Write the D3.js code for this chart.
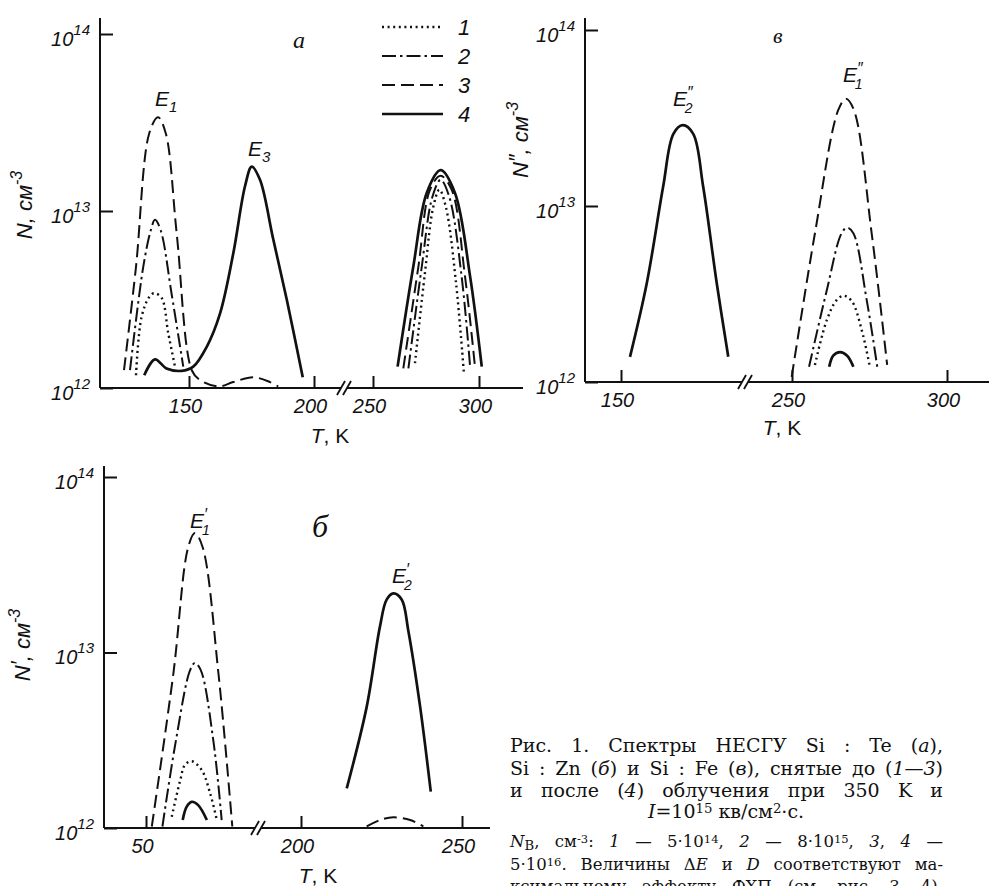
<!DOCTYPE html>
<html>
<head>
<meta charset="utf-8">
<script src="https://cdn.jsdelivr.net/npm/d3@7"></script>
<style>
  body { margin: 0; background: #fff; }
  text { fill: #111; }
</style>
</head>
<body>
<svg id="chart" width="989" height="886"></svg>
<script>
// values: [T in K, N in cm^-3]
// panel а  (Si:Te)
const aDot1 = [[128.8,1.18e12],[131,2.51e12],[134.1,3.27e12],[136,3.43e12],[139,3.24e12],[141.7,2.04e12],[144.4,1.32e12]];
const aDashDot2 = [[126.4,1.26e12],[131.7,4.84e12],[134.7,7.76e12],[136.4,8.91e12],[138.7,7.76e12],[143,3.43e12],[147.7,1.32e12]];
const aDash3 = [[124,1.26e12],[128.8,4.84e12],[134.1,2.75e13],[137.6,3.39e13],[140.7,2.75e13],[145.1,7.41e12],[151.1,1.26e12],
  [154.4,1.11e12],[161.7,1.02e12],[167.7,1.08e12],[175.7,1.15e12],[182.4,1.08e12],[185.7,1.02e12]];
const aSolid4 = [[132.1,1.18e12],[136.4,1.45e12],[141,1.29e12],[147.1,1.25e12],[151.7,1.32e12],[157.1,1.71e12],[162.4,2.63e12],
  [167.7,5.75e12],[172.4,1.38e13],[175.1,1.78e13],[178.4,1.5e13],[183.7,6.92e12],[189.1,3.16e12],[195.5,1.15e12]];
const aSolid4R = [[261.6,1.32e12],[269,4.84e12],[275.3,1.26e13],[281.9,1.7e13],[288.7,1.26e13],[295.8,4.27e12],[301.3,1.32e12]];
const aDash3R = [[264.3,1.29e12],[271.4,4.84e12],[276.9,1.32e13],[281.9,1.58e13],[287.1,1.32e13],[293.4,4.27e12],[298.1,1.32e12]];
const aDashDot2R = [[266.7,1.29e12],[273,4.84e12],[278,1.2e13],[281.9,1.5e13],[286,1.2e13],[291.8,4.27e12],[295.8,1.32e12]];
const aDot1R = [[269.8,1.38e12],[274.5,4.47e12],[278.4,1.05e13],[281.3,1.32e13],[284.4,1.05e13],[289.2,3.89e12],[292.9,1.2e12]];

// panel в  (Si:Fe)
const cSolid4L = [[152.9,1.39e12],[158.3,3.63e12],[163.6,1.29e13],[166.9,2.57e13],[169.9,2.88e13],[173.3,2.57e13],[176.5,1.29e13],[180.9,3.63e12],[184.6,1.39e12]];
const cDash3 = [[249.9,1.07e12],[257.4,7.0e12],[264.9,3.5e13],[267.4,4.07e13],[270,3.5e13],[275.7,7.0e12],[280.7,1.25e12]];
const cDashDot2 = [[255.5,1.22e12],[261.2,3.31e12],[266,7.0e12],[267.8,7.53e12],[269.8,7.0e12],[274.1,2.92e12],[277.5,1.22e12]];
const cDot1 = [[257.4,1.25e12],[261.2,2.24e12],[264.4,2.92e12],[266.6,3.09e12],[269.3,2.88e12],[272.5,1.97e12],[275.2,1.2e12]];
const cSolid4 = [[262,1.22e12],[263.3,1.41e12],[265.5,1.48e12],[267.8,1.41e12],[269.8,1.22e12]];

// panel б  (Si:Zn)
const bDash3 = [[51.8,1.02e12],[58.5,7.59e12],[63.1,3.98e13],[65.2,4.79e13],[67.6,3.98e13],[72.5,7.59e12],[76.8,1.02e12]];
const bDashDot2 = [[55.1,1.02e12],[59.3,3.16e12],[63.7,7.94e12],[65.2,8.71e12],[67,7.94e12],[70.9,3.16e12],[73.5,1.11e12]];
const bDot1 = [[58,1.16e12],[60.6,1.86e12],[62.1,2.29e12],[64.2,2.4e12],[67.3,2.14e12],[69.9,1.58e12],[72,1.11e12]];
const bSolid4 = [[61.4,1.11e12],[62.6,1.32e12],[64.2,1.41e12],[66.2,1.35e12],[68.9,1.11e12]];
const bSolid4R = [[214.2,1.68e12],[220.4,4.9e12],[224.5,1.4e13],[226.6,2.0e13],[228.7,2.17e13],[231.3,2.0e13],[233.3,1.34e13],[237,4.9e12],[240.3,1.61e12]];
const bDash3R = [[220.4,1.02e12],[224.5,1.11e12],[228.7,1.15e12],[233.9,1.11e12],[238,1.02e12]];

const yTicks = [1e12, 1e13, 1e14];
const ticksA = [[150, 200], [250, 300]];
const ticksC = [[150], [250, 300]];
const ticksB = [[50], [200, 250]];
const legendLabels = ['1', '2', '3', '4'];

const SANS = '"Liberation Sans", Arial, sans-serif';
const SERIF = '"Liberation Serif", "DejaVu Serif", serif';
const CAPTION = '"DejaVu Serif", "Liberation Serif", serif';
const INK = '#111';

const lineStyles = {
  1: { dash: '2,3.6', width: 2.4 },
  2: { dash: '14,4,2.5,4', width: 2 },
  3: { dash: '13,6', width: 2 },
  4: { dash: null, width: 2.7 }
};

const svg = d3.select('#chart');

const panels = [
  { yRange: [388, 34], axisTop: 18,
    segs: [{ dom: [150, 200], rng: [189, 314], x0: 100, x1: 341, ticks: ticksA[0] },
           { dom: [250, 300], rng: [373, 479], x0: 347, x1: 523, ticks: ticksA[1] }],
    series: [[aDot1, 1, 0], [aDashDot2, 2, 0], [aDash3, 3, 0], [aSolid4, 4, 0],
             [aSolid4R, 4, 1], [aDash3R, 3, 1], [aDashDot2R, 2, 1], [aDot1R, 1, 1]],
    primes: '', titleX: 32, titleY: 205, tLabel: [330, 443] },
  { yRange: [382, 30], axisTop: 18,
    segs: [{ dom: [150, 200], rng: [621, 776], x0: 585, x1: 742, ticks: ticksC[0] },
           { dom: [250, 300], rng: [792, 947], x0: 748, x1: 989, ticks: ticksC[1] }],
    series: [[cSolid4L, 4, 0], [cDash3, 3, 1], [cDashDot2, 2, 1], [cDot1, 1, 1], [cSolid4, 4, 1]],
    primes: '″', titleX: 528, titleY: 140, tLabel: [782, 435] },
  { yRange: [828, 477], axisTop: 466,
    segs: [{ dom: [50, 100], rng: [146, 307], x0: 104, x1: 255, ticks: ticksB[0] },
           { dom: [200, 250], rng: [301, 462], x0: 261, x1: 490, ticks: ticksB[1] }],
    series: [[bDash3, 3, 0], [bDashDot2, 2, 0], [bDot1, 1, 0], [bSolid4, 4, 0], [bSolid4R, 4, 1], [bDash3R, 3, 1]],
    primes: '′', titleX: 30, titleY: 645, tLabel: [318, 883] }
];

panels.forEach((p) => {
  const g = svg.append('g');
  const y = d3.scaleLog().domain([1e12, 1e14]).range(p.yRange);
  const base = y(1e12);
  const ax = p.segs[0].x0;

  // y axis
  g.append('line').attr('x1', ax).attr('x2', ax).attr('y1', p.axisTop).attr('y2', base)
    .attr('stroke', INK).attr('stroke-width', 2);
  const yAxis = g.append('g').attr('transform', `translate(${ax},0)`)
    .call(d3.axisLeft(y).tickValues(yTicks).tickSizeInner(-13).tickSizeOuter(0).tickPadding(10).tickFormat(''));
  yAxis.select('.domain').remove();
  yAxis.selectAll('line').attr('stroke', INK).attr('stroke-width', 2);
  yAxis.selectAll('.tick text').each(function (d) {
    const t = d3.select(this).attr('dy', '0.55em').attr('fill', INK)
      .attr('font-family', SANS).attr('font-style', 'italic').attr('font-size', 20);
    t.append('tspan').text('10');
    t.append('tspan').attr('dy', -11).attr('font-size', 15).text(Math.round(Math.log10(d)));
  });

  // x axis, two segments with a break
  const xs = p.segs.map((s) => {
    const x = d3.scaleLinear().domain(s.dom).range(s.rng);
    g.append('line').attr('x1', s.x0).attr('x2', s.x1).attr('y1', base).attr('y2', base)
      .attr('stroke', INK).attr('stroke-width', 2);
    const xa = g.append('g').attr('transform', `translate(0,${base})`)
      .call(d3.axisBottom(x).tickValues(s.ticks).tickSizeInner(-12).tickSizeOuter(0).tickPadding(11).tickFormat(d3.format('d')));
    xa.select('.domain').remove();
    xa.selectAll('line').attr('stroke', INK).attr('stroke-width', 2);
    xa.selectAll('text').attr('fill', INK).attr('font-family', SANS)
      .attr('font-style', 'italic').attr('font-size', 20).attr('dx', -4);
    return x;
  });

  const bx = (p.segs[0].x1 + p.segs[1].x0) / 2;
  [-3, 3].forEach((o) => {
    g.append('line').attr('x1', bx + o - 4).attr('y1', base + 7).attr('x2', bx + o + 4).attr('y2', base - 7)
      .attr('stroke', INK).attr('stroke-width', 1.8);
  });

  p.series.forEach(([data, style, seg]) => {
    const st = lineStyles[style];
    const path = d3.line().x((d) => xs[seg](d[0])).y((d) => y(d[1])).curve(d3.curveCatmullRom.alpha(0.5));
    g.append('path').attr('d', path(data)).attr('fill', 'none').attr('stroke', INK)
      .attr('stroke-width', st.width).attr('stroke-dasharray', st.dash);
  });

  const tt = g.append('text').attr('transform', `translate(${p.titleX},${p.titleY}) rotate(-90)`)
    .attr('text-anchor', 'middle').attr('font-family', SANS).attr('font-style', 'italic').attr('font-size', 22);
  tt.append('tspan').text('N');
  if (p.primes) tt.append('tspan').attr('dy', -4).text(p.primes);
  tt.append('tspan').attr('dy', p.primes ? 4 : 0).text(', см');
  tt.append('tspan').attr('dy', -10).attr('font-size', 16).text('-3');

  g.append('text').attr('x', p.tLabel[0]).attr('y', p.tLabel[1]).attr('text-anchor', 'middle')
    .attr('font-family', SANS).attr('font-size', 21)
    .call((t) => { t.append('tspan').attr('font-style', 'italic').text('T'); t.append('tspan').text(', K'); });
});

// peak labels (prime above, index below)
function peakLabel(x, y, sub, primes) {
  const t = svg.append('text').attr('x', x).attr('y', y).attr('font-family', SANS)
    .attr('font-style', 'italic').attr('font-size', 21);
  t.append('tspan').text('E');
  if (primes) {
    t.append('tspan').attr('dy', -8).attr('font-size', 16).text(primes);
    t.append('tspan').attr('dx', primes === '″' ? -8 : -5).attr('dy', 15).attr('font-size', 14).text(sub);
  } else {
    t.append('tspan').attr('dy', 6).attr('font-size', 15).text(sub);
  }
}
peakLabel(155, 106, '1', '');
peakLabel(248, 156, '3', '');
peakLabel(673, 106, '2', '″');
peakLabel(843, 82, '1', '″');
peakLabel(190, 528, '1', '′');
peakLabel(392, 583, '2', '′');

[['а', 293, 48, 24], ['в', 773, 43, 22], ['б', 312, 537, 32]].forEach(([s, x, yy, fs]) => {
  svg.append('text').attr('x', x).attr('y', yy).attr('font-family', SERIF)
    .attr('font-style', 'italic').attr('font-size', fs).text(s);
});

// legend
legendLabels.forEach((lab, i) => {
  const st = lineStyles[i + 1];
  const ly = 27 + i * 29;
  svg.append('line').attr('x1', 382).attr('x2', 443).attr('y1', ly).attr('y2', ly)
    .attr('stroke', INK).attr('stroke-width', st.width).attr('stroke-dasharray', st.dash);
  svg.append('text').attr('x', 458).attr('y', ly + 8).attr('font-family', SANS)
    .attr('font-style', 'italic').attr('font-size', 22).text(lab);
});

// caption, justified by word spacing
function rich(x, y, size, parts, width, anchor) {
  const t = svg.append('text').attr('x', x).attr('y', y).attr('font-family', CAPTION)
    .attr('font-size', size).attr('text-anchor', anchor || 'start');
  parts.forEach((pt) => {
    const [s, kind] = typeof pt === 'string' ? [pt, ''] : pt;
    const ts = t.append('tspan').text(s);
    if (kind.includes('i')) ts.attr('font-style', 'italic');
    if (kind.includes('^')) ts.attr('baseline-shift', '35%').attr('font-size', size * 0.7);
    if (kind.includes('_')) ts.attr('baseline-shift', '-20%').attr('font-size', size * 0.8);
  });
  if (width) {
    const natural = t.node().getComputedTextLength();
    const spaces = (t.text().match(/ /g) || []).length;
    if (natural < width && spaces) t.attr('word-spacing', (width - natural) / spaces);
    else t.attr('textLength', width).attr('lengthAdjust', 'spacingAndGlyphs');
  }
}
rich(510, 752, 19, ['Рис. 1. Спектры НЕСГУ Si : Te (', ['а', 'i'], '),'], 433);
rich(510, 775, 19, ['Si : Zn (', ['б', 'i'], ') и Si : Fe (', ['в', 'i'], '), снятые до (', ['1—3', 'i'], ')'], 433);
rich(510, 797, 19, ['и после (', ['4', 'i'], ') облучения при 350 K и'], 433);
rich(726, 818, 19, [['I', 'i'], '=10', ['15', '^'], ' кв/см', ['2', '^'], '·с.'], null, 'middle');
rich(510, 847, 16.5, [['N', 'i'], ['В', '_'], ', см', ['-3', '^'], ': ', ['1', 'i'], ' — 5·10', ['14', '^'], ', ',
  ['2', 'i'], ' — 8·10', ['15', '^'], ', ', ['3', 'i'], ', ', ['4', 'i'], ' —'], 433);
rich(510, 870, 16.5, ['5·10', ['16', '^'], '. Величины Δ', ['E', 'i'], ' и ', ['D', 'i'], ' соответствуют ма-'], 433);
rich(510, 892, 16.5, ['ксимальному эффекту ФХП (см. рис. 3, 4).'], 433);
</script>
</body>
</html>
